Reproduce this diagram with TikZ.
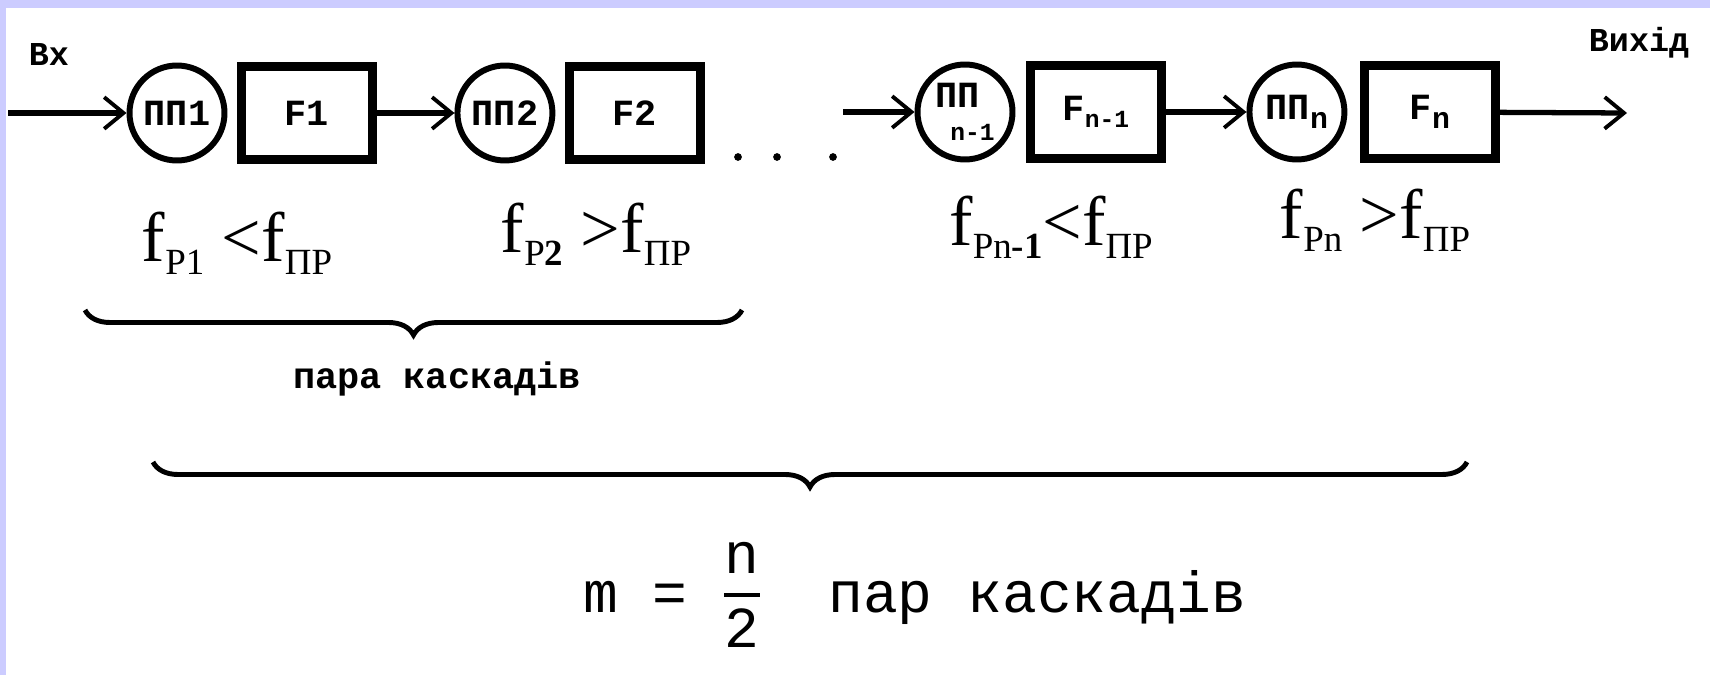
\documentclass[tikz,border=0pt]{standalone}
\usepackage{fontspec}
\setmainfont{Liberation Serif}
\setmonofont{Liberation Mono}
\usetikzlibrary{shapes,arrows.meta,decorations.pathreplacing}
\definecolor{lavender}{RGB}{204,204,255}
\newcommand{\lbl}{\ttfamily\bfseries\fontsize{21}{23}\selectfont}
\newcommand{\idx}[1]{\raisebox{-5pt}{\fontsize{17}{17}\selectfont #1}}
\newcommand{\idxs}[1]{{\fontsize{14}{14}\selectfont #1}}
\newcommand{\fsub}[1]{\raisebox{-7pt}{\fontsize{21}{21}\selectfont #1}}
\tikzstyle{block} = [rectangle, draw, line width=4.8pt,
    minimum width=2.62cm, minimum height=1.86cm, font=\lbl]
\tikzstyle{conv} = [circle, draw, line width=3.4pt,
    minimum size=1.9cm, inner sep=1pt, font=\lbl]
\tikzstyle{line} = [draw, line width=3pt,
    -{Straight Barb[length=11pt, width=18pt, line width=2.2pt]}]
\tikzstyle{formula} = [anchor=base, inner sep=0pt, font=\fontsize{40}{40}\selectfont]
\tikzstyle{note} = [font=\ttfamily\bfseries\fontsize{19}{19}\selectfont]
\tikzstyle{mono} = [inner sep=0pt, font=\ttfamily\fontsize{33}{40}\selectfont]
\tikzstyle{cbrace} = [draw, line width=2.8pt, decorate,
    decoration={brace, mirror, amplitude=0.5cm}]

\begin{document}
\begin{tikzpicture}[x=0.02cm, y=-0.02cm, node distance=2.6cm]

        % Frame
        \fill [lavender] (0,0) rectangle (1710,675);
        \fill [white] (6,8) rectangle (1710,675);
        \useasboundingbox (0,0) rectangle (1710,675);

        % Place nodes
        \node [conv] (pp1) at (177,113) {ПП1};
        \node [block, right of=pp1] (f1) {F1};
        \node [conv, right of=f1, node distance=3.96cm] (pp2) {ПП2};
        \node [block, right of=pp2] (f2) {F2};
        \node [conv, align=left] (ppm) at (965,112) {ПП\\[-4pt]\hspace*{0.4em}\idxs{n-1}};
        \node [block, right of=ppm, node distance=2.62cm] (fm) {F\idxs{\raisebox{-4pt}{n-1}}};
        \node [conv, right of=fm, node distance=4.02cm] (ppn) {ПП\idx{n}};
        \node [block, right of=ppn, node distance=2.66cm] (fn) {F\idx{n}};
        \node [note] (vx) at (49,55) {Вх};
        \node [note] (vyx) at (1639,43) {Вихід};
        \coordinate (src) at (8,113);
        \coordinate (gap) at (843,112);
        \coordinate (sink) at (1627,113);

        % Draw edges
        \path [line] (src) -- (pp1);
        \path [line] (f1) -- (pp2);
        \path [line] (gap) -- (ppm);
        \path [line] (fm) -- (ppn);
        \path [line] (fn) -- (sink);
        \foreach \x in {738,777,833}
            \fill (\x,157) circle (2.2pt);

        % Conditions
        \node [formula] (c1) at (237,262) {f\fsub{P1} <f\fsub{ПР}};
        \node [formula] (c2) at (596,253) {f\fsub{P\textbf{2}} >f\fsub{ПР}};
        \node [formula] (c3) at (1051,246) {f\fsub{Pn\textbf{-1}}<f\fsub{ПР}};
        \node [formula] (c4) at (1375,239) {f\fsub{Pn} >f\fsub{ПР}};

        % Braces
        \coordinate (p1a) at (85,310);
        \coordinate (p1b) at (742,310);
        \draw [cbrace] (p1a) -- (p1b);
        \node [note, font=\ttfamily\bfseries\fontsize{21}{21}\selectfont] (pair) at (437,379) {пара каскадів};
        \coordinate (p2a) at (153,462);
        \coordinate (p2b) at (1467,462);
        \draw [cbrace] (p2a) -- (p2b);

        % m = n/2
        \node [mono, anchor=base west] (meq) at (583,612) {m =};
        \node [mono, anchor=base] (num) at (742,573) {n};
        \node [mono, anchor=base] (den) at (742,647) {2};
        \draw [line width=2.2pt] (724,595) -- (760,595);
        \node [mono, anchor=base west] (pairs) at (828,612) {пар каскадів};

\end{tikzpicture}
\end{document}
